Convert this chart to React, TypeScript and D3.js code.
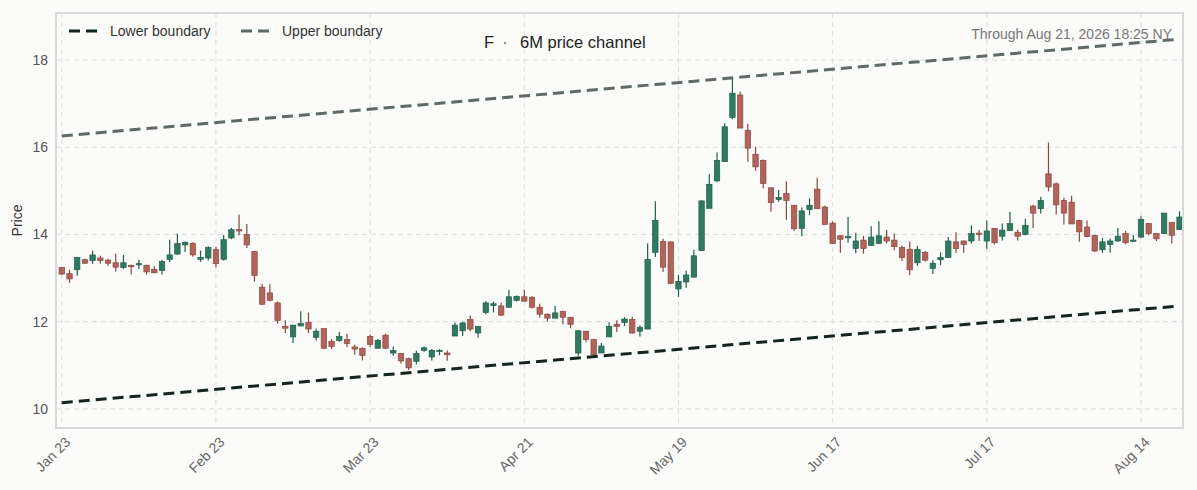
import * as d3 from "d3";

// daily OHLC, one entry per NYSE session from Jan 23 to Aug 21, 2026
const opens = [
  13.24, 13.1, 13.19, 13.42, 13.4, 13.46, 13.41, 13.35, 13.24, 13.29,
  13.32, 13.29, 13.2, 13.17, 13.43, 13.55, 13.76, 13.79, 13.43, 13.46,
  13.65, 13.43, 13.92, 14.11, 14.0, 13.61, 12.79, 12.66, 12.43, 11.89,
  11.65, 11.9, 11.98, 11.64, 11.84, 11.55, 11.57, 11.59, 11.42, 11.39,
  11.66, 11.39, 11.69, 11.28, 11.27, 11.15, 11.09, 11.34, 11.19, 11.33,
  11.28, 11.67, 11.79, 12.05, 11.74, 12.21, 12.37, 12.36, 12.33, 12.49,
  12.57, 12.56, 12.33, 12.17, 12.08, 12.23, 12.1, 11.28, 11.78, 11.59,
  11.28, 11.65, 11.94, 11.98, 12.05, 11.78, 11.83, 13.59, 13.84, 13.83,
  12.75, 12.91, 13.02, 13.63, 14.6, 15.23, 15.67, 16.68, 17.2, 16.39,
  15.84, 15.7, 15.07, 14.8, 14.94, 14.67, 14.14, 14.57, 15.04, 14.63,
  14.26, 13.97, 13.93, 13.68, 13.87, 13.75, 13.79, 13.94, 13.87, 13.7,
  13.66, 13.35, 13.59, 13.22, 13.42, 13.47, 13.83, 13.85, 13.85, 14.03,
  13.85, 14.14, 13.96, 14.09, 14.05, 14.0, 14.65, 14.59, 15.39, 15.16,
  14.78, 14.74, 14.32, 14.17, 13.98, 13.65, 13.77, 13.85, 14.02, 13.86,
  13.94, 14.25, 14.02, 14.02, 14.28, 14.11,
];
const highs = [
  13.25, 13.19, 13.49, 13.44, 13.63, 13.51, 13.44, 13.56, 13.53, 13.31,
  13.42, 13.31, 13.27, 13.42, 13.88, 14.02, 13.84, 13.82, 13.63, 13.73,
  13.72, 13.99, 14.15, 14.46, 14.24, 13.61, 12.87, 12.86, 12.46, 12.03,
  11.92, 12.24, 12.21, 11.84, 11.84, 11.6, 11.76, 11.72, 11.47, 11.41,
  11.71, 11.6, 11.72, 11.43, 11.28, 11.17, 11.33, 11.43, 11.37, 11.37,
  11.34, 11.98, 12.0, 12.14, 11.89, 12.47, 12.46, 12.44, 12.73, 12.6,
  12.73, 12.58, 12.41, 12.19, 12.36, 12.25, 12.11, 11.81, 11.79, 11.61,
  11.51, 11.98, 12.03, 12.1, 12.11, 11.91, 13.79, 14.76, 13.9, 13.83,
  13.07, 13.17, 13.65, 14.78, 15.38, 15.88, 16.55, 17.6, 17.28, 16.54,
  16.01, 15.72, 15.07, 15.02, 15.22, 14.67, 14.62, 14.83, 15.3, 14.66,
  14.3, 13.97, 14.4, 14.04, 13.97, 14.19, 14.3, 14.1, 14.02, 13.74,
  13.84, 13.74, 13.62, 13.41, 13.59, 13.94, 14.05, 13.86, 14.21, 14.1,
  14.32, 14.14, 14.25, 14.52, 14.11, 14.36, 14.68, 14.86, 16.11, 15.19,
  14.84, 14.89, 14.34, 14.32, 13.98, 13.92, 13.9, 14.15, 14.08, 13.99,
  14.42, 14.25, 14.02, 14.49, 14.28, 14.53,
];
const lows = [
  13.08, 12.89, 13.05, 13.33, 13.33, 13.33, 13.28, 13.15, 13.21, 13.08,
  13.21, 13.08, 13.11, 13.08, 13.37, 13.53, 13.6, 13.49, 13.37, 13.4,
  13.25, 13.4, 13.89, 13.98, 13.69, 12.92, 12.38, 12.47, 11.95, 11.74,
  11.51, 11.9, 11.74, 11.57, 11.37, 11.37, 11.54, 11.42, 11.24, 11.11,
  11.42, 11.39, 11.37, 11.22, 11.04, 10.89, 11.02, 11.31, 11.11, 11.23,
  11.1, 11.67, 11.67, 11.78, 11.63, 12.17, 12.21, 12.13, 12.31, 12.46,
  12.46, 12.3, 12.09, 12.0, 12.08, 11.94, 11.85, 11.22, 11.52, 11.21,
  11.28, 11.65, 11.76, 11.9, 11.72, 11.66, 11.83, 13.48, 13.14, 12.86,
  12.57, 12.78, 13.02, 13.63, 14.6, 15.2, 15.67, 16.64, 16.44, 15.67,
  15.46, 15.06, 14.52, 14.75, 14.34, 14.08, 13.96, 14.45, 14.59, 14.23,
  13.78, 13.58, 13.81, 13.57, 13.56, 13.74, 13.78, 13.79, 13.64, 13.39,
  13.07, 13.28, 13.38, 13.09, 13.3, 13.47, 13.58, 13.58, 13.79, 13.85,
  13.67, 13.77, 13.86, 14.09, 13.86, 13.98, 14.15, 14.48, 14.99, 14.46,
  14.23, 14.24, 13.83, 13.94, 13.6, 13.58, 13.58, 13.83, 13.77, 13.83,
  13.92, 13.98, 13.85, 14.02, 13.79, 14.11,
];
const closes = [
  13.09, 12.98, 13.47, 13.34, 13.53, 13.4, 13.34, 13.25, 13.35, 13.26,
  13.33, 13.14, 13.12, 13.38, 13.53, 13.79, 13.82, 13.53, 13.47, 13.7,
  13.33, 13.88, 14.11, 14.08, 13.76, 13.06, 12.4, 12.49, 12.03, 11.85,
  11.92, 11.96, 11.83, 11.78, 11.39, 11.43, 11.66, 11.5, 11.37, 11.22,
  11.48, 11.57, 11.39, 11.34, 11.1, 10.94, 11.27, 11.4, 11.34, 11.34,
  11.24, 11.92, 11.97, 11.83, 11.89, 12.43, 12.41, 12.15, 12.57, 12.58,
  12.47, 12.33, 12.17, 12.08, 12.2, 12.1, 11.94, 11.79, 11.59, 11.24,
  11.44, 11.89, 11.89, 12.06, 11.74, 11.87, 13.43, 14.32, 13.25, 12.88,
  12.92, 13.07, 13.51, 14.77, 15.15, 15.7, 16.47, 17.24, 16.44, 15.98,
  15.55, 15.17, 14.73, 14.85, 14.78, 14.13, 14.54, 14.67, 14.59, 14.23,
  13.79, 13.89, 13.95, 13.85, 13.68, 13.94, 13.97, 13.85, 13.72, 13.47,
  13.19, 13.66, 13.41, 13.34, 13.47, 13.85, 13.68, 13.77, 14.02, 14.01,
  14.08, 13.81, 14.1, 14.25, 13.96, 14.21, 14.49, 14.78, 15.09, 14.68,
  14.49, 14.24, 14.06, 13.95, 13.62, 13.83, 13.85, 13.96, 13.81, 13.87,
  14.34, 14.02, 13.9, 14.49, 13.98, 14.4,
];

// channel endpoints (first and last session)
const lowerBoundary = [10.14, 12.36];
const upperBoundary = [16.26, 18.48];

const yTicks = [10, 12, 14, 16, 18];
const holidays = ["2026-02-16", "2026-04-03", "2026-05-25", "2026-06-19", "2026-07-03"];

const W = 1197;
const H = 490;
const plot = { left: 56, right: 1183, top: 13, bottom: 428 };
const FONT = "'Liberation Sans', Arial, Helvetica, sans-serif";

function tradingDays(start: Date, count: number) {
  const out: Date[] = [];
  const fmt = d3.timeFormat("%Y-%m-%d");
  let d = new Date(start);
  while (out.length < count) {
    const wd = d.getDay();
    if (wd !== 0 && wd !== 6 && !holidays.includes(fmt(d))) out.push(new Date(d));
    d = d3.timeDay.offset(d, 1);
  }
  return out;
}

export default function App() {
  const n = closes.length;
  const dates = tradingDays(new Date(2026, 0, 23), n);
  const x = d3.scaleLinear().domain([-0.75, n - 0.55]).range([plot.left, plot.right]);
  const y = d3.scaleLinear().domain([9.56, 19.08]).range([plot.bottom, plot.top]);
  const tickIdx = d3.range(0, n, 20);
  const fmtTick = d3.timeFormat("%b %-d");
  const bw = 5.4;

  const chan = d3
    .line<number>()
    .x((_, i) => x(i === 0 ? 0 : n - 1))
    .y((v) => y(v));

  return (
    <div style={{ position: "absolute", left: 0, top: 0 }}>
      <svg width={W} height={H} style={{ display: "block", fontFamily: FONT }}>
        <rect width={W} height={H} fill="#fbfbf9" />

        {/* grid */}
        {tickIdx.map((i) => (
          <line key={"gx" + i} x1={x(i)} x2={x(i)} y1={plot.top} y2={plot.bottom}
            stroke="#dcdcdc" strokeDasharray="5,4" />
        ))}
        {yTicks.map((t) => (
          <line key={"gy" + t} x1={plot.left} x2={plot.right} y1={y(t)} y2={y(t)}
            stroke="#dcdcdc" strokeDasharray="5,4" />
        ))}

        {/* candles */}
        {closes.map((c, i) => {
          const o = opens[i];
          const up = c >= o;
          const fill = up ? "#2e7b62" : "#b2645a";
          const edge = up ? "#1f5e4a" : "#8a4740";
          const top = y(Math.max(o, c));
          const h = Math.max(1.2, y(Math.min(o, c)) - top);
          return (
            <g key={i}>
              <line x1={x(i)} x2={x(i)} y1={y(highs[i])} y2={y(lows[i])} stroke={edge} strokeWidth={1.2} />
              <rect x={x(i) - bw / 2} y={top} width={bw} height={h} fill={fill} stroke={edge} strokeWidth={0.7} />
            </g>
          );
        })}

        {/* channel */}
        <path d={chan(lowerBoundary) ?? ""} fill="none" stroke="#16241f" strokeWidth={3} strokeDasharray="11,6" />
        <path d={chan(upperBoundary) ?? ""} fill="none" stroke="#5f6a66" strokeWidth={3} strokeDasharray="11,6" />

        {/* frame */}
        <rect x={plot.left} y={plot.top} width={plot.right - plot.left} height={plot.bottom - plot.top}
          fill="none" stroke="#d9d9d9" strokeWidth={2} />

        {/* y axis */}
        {yTicks.map((t) => (
          <text key={"yt" + t} x={plot.left - 8} y={y(t)} dy="0.35em" textAnchor="end" fontSize={14} fill="#555">
            {t}
          </text>
        ))}
        <text transform={`translate(22,${(plot.top + plot.bottom) / 2}) rotate(-90)`} textAnchor="middle"
          fontSize={14} fill="#333">
          Price
        </text>

        {/* x axis */}
        {tickIdx.map((i) => (
          <text key={"xt" + i} transform={`translate(${x(i) + 9.5},443) rotate(-45)`} textAnchor="end"
            fontSize={14} fill="#666">
            {fmtTick(dates[i])}
          </text>
        ))}

        {/* legend */}
        <line x1={69} x2={98} y1={31} y2={31} stroke="#16241f" strokeWidth={3} strokeDasharray="11,6" />
        <text x={110} y={36} fontSize={14} fill="#333">Lower boundary</text>
        <line x1={241} x2={270} y1={31} y2={31} stroke="#5f6a66" strokeWidth={3} strokeDasharray="11,6" />
        <text x={282} y={36} fontSize={14} fill="#333">Upper boundary</text>

        {/* title */}
        <text x={484} y={48} fontSize={16.5} fill="#222">F</text>
        <text x={505} y={48} fontSize={16.5} fill="#666" textAnchor="middle">·</text>
        <text x={520} y={48} fontSize={16.5} fill="#222">6M price channel</text>

        <text x={1172} y={39} fontSize={14} fill="#777" textAnchor="end">
          Through Aug 21, 2026 18:25 NY
        </text>
      </svg>
    </div>
  );
}
